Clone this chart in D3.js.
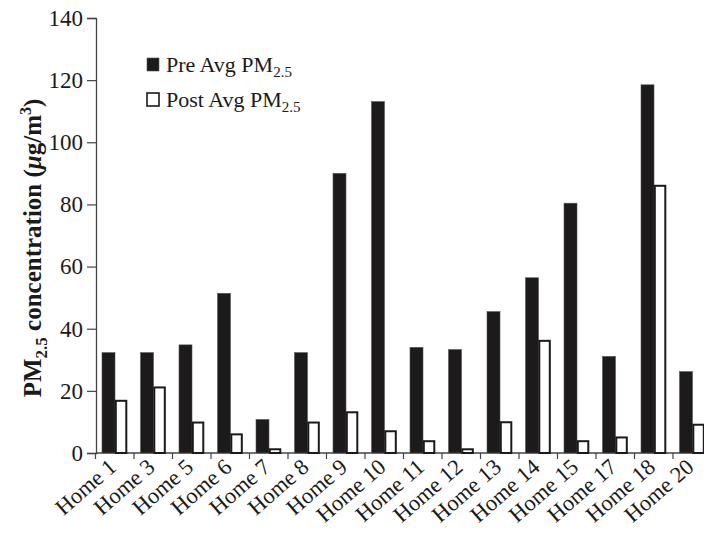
<!DOCTYPE html>
<html><head><meta charset="utf-8">
<script src="https://cdn.jsdelivr.net/npm/d3@7/dist/d3.min.js"></script>
<style>body{margin:0;background:#fff}svg{display:block}text{font-family:"Liberation Serif","DejaVu Serif",serif;fill:#1a1a1a}</style>
</head><body>
<script>
const homes = ["Home 1","Home 3","Home 5","Home 6","Home 7","Home 8","Home 9","Home 10","Home 11","Home 12","Home 13","Home 14","Home 15","Home 17","Home 18","Home 20"];
const preAvg = [32.3,32.3,34.8,51.4,10.8,32.3,90.0,113.1,34.0,33.3,45.5,56.4,80.4,31.1,118.5,26.2];
const postAvg = [16.8,21.1,9.8,6.0,1.2,9.8,13.1,7.0,3.8,1.2,9.9,36.1,3.8,5.0,86.0,9.1];
const yTicks = [0,20,40,60,80,100,120,140];

const W=704,H=536;
const svg=d3.select("body").append("svg").attr("width",W).attr("height",H);
const y=d3.scaleLinear().domain([0,140]).range([453,18]);
const x=d3.scaleBand().domain(homes).range([95.5,711.5]).paddingInner(0).paddingOuter(0);
const bw=x.bandwidth();

// y axis
const yAx=svg.append("g").attr("transform","translate(96,0)")
  .call(d3.axisLeft(y).tickValues(yTicks).tickSize(9).tickPadding(4));
yAx.select(".domain").attr("stroke","#444").attr("stroke-width",1.3);
yAx.selectAll(".tick line").attr("stroke","#444").attr("stroke-width",1.2);
yAx.selectAll(".tick text").style("font-family","Liberation Serif").style("font-size","23px").attr("fill","#1a1a1a");

// x baseline & ticks
svg.append("line").attr("x1",96).attr("x2",W).attr("y1",y(0)).attr("y2",y(0)).attr("stroke","#444").attr("stroke-width",1.3);
svg.append("g").selectAll("line").data(homes).join("line")
  .attr("x1",d=>x(d)).attr("x2",d=>x(d)).attr("y1",y(0)).attr("y2",y(0)+6)
  .attr("stroke","#444").attr("stroke-width",1.2);

// bars
const g=svg.append("g");
g.selectAll("rect.pre").data(homes).join("rect").attr("class","pre")
  .attr("x",d=>x(d)+6.5).attr("width",13)
  .attr("y",(d,i)=>y(preAvg[i])).attr("height",(d,i)=>y(0)-y(preAvg[i]))
  .attr("fill","#1c1a1a").attr("stroke","#555").attr("stroke-width",0.6);
g.selectAll("rect.post").data(homes).join("rect").attr("class","post")
  .attr("x",d=>x(d)+20.3).attr("width",10.5)
  .attr("y",(d,i)=>y(postAvg[i])).attr("height",(d,i)=>y(0)-y(postAvg[i]))
  .attr("fill","#fff").attr("stroke","#1a1a1a").attr("stroke-width",2);

// x labels
svg.append("g").selectAll("text").data(homes).join("text")
  .attr("transform",d=>`translate(${x(d)+bw/2+3},469) rotate(-41)`)
  .attr("text-anchor","end").style("font-size","22.5px").text(d=>d);

// y title
const yt=svg.append("text").attr("transform","translate(41,248) rotate(-90)")
  .attr("text-anchor","middle").style("font-size","25px").style("font-weight","bold");
yt.append("tspan").text("PM");
yt.append("tspan").attr("dy",6).style("font-size","17px").text("2.5");
yt.append("tspan").attr("dy",-6).text(" concentration (");
yt.append("tspan").style("font-style","italic").text("μ");
yt.append("tspan").text("g/m");
yt.append("tspan").attr("dy",-10).style("font-size","16px").text("3");
yt.append("tspan").attr("dy",10).text(")");

// legend
const leg=[{lab:"Pre Avg PM",fill:"#1c1a1a",stroke:"#555"},{lab:"Post Avg PM",fill:"#fff",stroke:"#1a1a1a"}];
const lg=svg.append("g").selectAll("g").data(leg).join("g")
  .attr("transform",(d,i)=>`translate(147,${58+i*35})`);
lg.append("rect").attr("width",12).attr("height",13)
  .attr("fill",d=>d.fill).attr("stroke",d=>d.stroke).attr("stroke-width",(d,i)=>i?1.6:0.6);
const lt=lg.append("text").attr("x",19).attr("y",14).style("font-size","22px");
lt.append("tspan").text(d=>d.lab);
lt.append("tspan").attr("dy",5).style("font-size","15px").text("2.5");
</script>
</body></html>
